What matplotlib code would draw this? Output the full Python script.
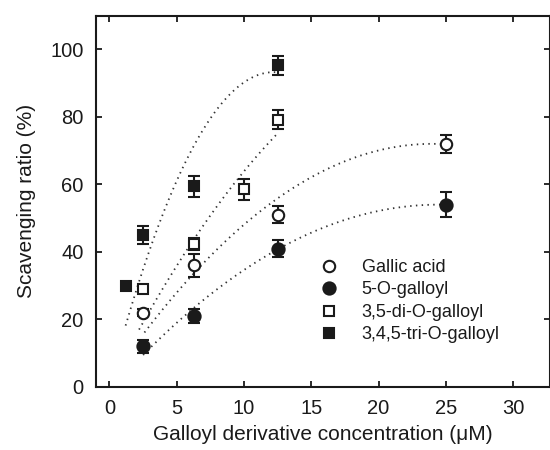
import numpy as np
import matplotlib.pyplot as plt
from matplotlib.lines import Line2D

plt.rcParams['font.family'] = ['Liberation Sans', 'DejaVu Sans']

# Concentrations (uM) and scavenging ratios (%)
x_gallic = [2.5, 6.25, 12.5, 25]
y_gallic = [22, 36, 51, 72]
e_gallic = [1.0, 3.5, 2.5, 2.7]

x_5o = [2.5, 6.25, 12.5, 25]
y_5o = [12, 21, 41, 54]
e_5o = [2.0, 2.0, 2.6, 3.8]

x_di = [2.5, 6.25, 10, 12.5]
y_di = [29, 42.4, 58.5, 79.2]
e_di = [1.0, 1.8, 3.0, 2.7]

x_tri = [1.25, 2.5, 6.25, 12.5]
y_tri = [30, 45, 59.4, 95.3]
e_tri = [0.8, 2.8, 3.0, 2.8]

# quadratic trend lines (coefficients) and x ranges
fit_gallic = [-0.122, 5.856, 1.73]
fit_5o = [-0.092, 4.508, -1.22]
fit_di = [-0.1475, 7.81, 0.53]
fit_tri = [-0.62, 15.13, 0.92]
rng_gallic = (2.6, 25)
rng_5o = (2.5, 25)
rng_di = (2.2, 12.5)
rng_tri = (1.2, 12.5)

labels = ['Gallic acid', '5-O-galloyl', '3,5-di-O-galloyl', '3,4,5-tri-O-galloyl']

ink = '#1a1a1a'

fig = plt.figure(figsize=(5.5, 4.5), dpi=100)
ax = fig.add_axes([96/550, 63/450, 453.5/550, (387-15.5)/450])

# dotted fit curves
for coef, rng in [(fit_tri, rng_tri), (fit_di, rng_di), (fit_gallic, rng_gallic), (fit_5o, rng_5o)]:
    xx = np.linspace(rng[0], rng[1], 200)
    ax.plot(xx, np.polyval(coef, xx), color='#333333', lw=1.3,
            linestyle=(0, (0.8, 2.4)), zorder=1)

styles = [
    (x_gallic, y_gallic, e_gallic, 'o', 'white', 8.2),
    (x_5o, y_5o, e_5o, 'o', ink, 8.8),
    (x_di, y_di, e_di, 's', 'white', 7.0),
    (x_tri, y_tri, e_tri, 's', ink, 7.8),
]
for xs, ys, es, mk, fc, ms in styles:
    ax.errorbar(xs, ys, yerr=es, fmt=mk, mfc=fc, mec=ink, mew=1.5, ms=ms,
                ecolor=ink, elinewidth=1.5, capsize=4, capthick=1.5, zorder=3)

ax.set_xlim(-1, 32.7)
ax.set_ylim(0, 110)
ax.set_xticks([0, 5, 10, 15, 20, 25, 30])
ax.set_yticks([0, 20, 40, 60, 80, 100])
ax.tick_params(direction='in', length=4.5, width=1.3, colors=ink,
               labelsize=14.5, top=True, right=True)
ax.tick_params(axis='x', pad=9)
ax.tick_params(axis='y', pad=9)
for s in ax.spines.values():
    s.set_linewidth(1.5)
    s.set_color(ink)

ax.set_xlabel('Galloyl derivative concentration (\u03bcM)', fontsize=15, color=ink, labelpad=5)
ax.set_ylabel('Scavenging ratio (%)', fontsize=15, color=ink, labelpad=10)

handles = [Line2D([], [], ls='none', marker=mk, mfc=fc, mec=ink, mew=1.5, ms=ms)
           for _, _, _, mk, fc, ms in styles]
ax.legend(handles, labels, frameon=False, fontsize=13, loc='upper left',
          bbox_to_anchor=(311/550, 1-250/450), bbox_transform=fig.transFigure,
          borderpad=0, handlelength=1.0, handletextpad=1.3, labelspacing=0.3,
          labelcolor=ink)

fig.savefig('out.png', dpi=100)
